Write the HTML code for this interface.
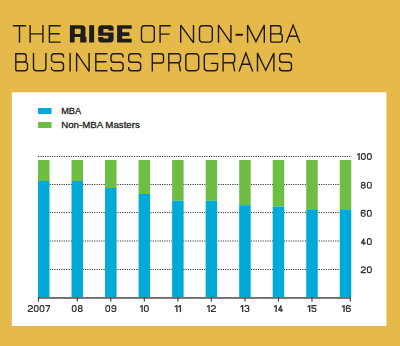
<!DOCTYPE html>
<html><head><meta charset="utf-8">
<style>
html,body{margin:0;padding:0;background:#E5BA4A;}
svg{display:block;}
text{font-family:"Liberation Sans",sans-serif;}
</style></head>
<body>
<svg width="400" height="346" viewBox="0 0 400 346">
<rect x="0" y="0" width="400" height="346" fill="#E5BA4A"/>
<!-- title -->
<g font-size="26">
<path d="M12.80 25.80H26.20M19.50 25.80V42.80" fill="none" stroke="#1E1A15" stroke-width="1.4" stroke-linejoin="miter" stroke-miterlimit="3"/>
<path d="M30.10 25.10V42.80M42.90 25.10V42.80M30.10 33.90H42.90" fill="none" stroke="#1E1A15" stroke-width="1.4" stroke-linejoin="miter" stroke-miterlimit="3"/>
<path d="M60.60 25.80H49.40V42.10H60.60M49.40 33.80H59.70" fill="none" stroke="#1E1A15" stroke-width="1.4" stroke-linejoin="miter" stroke-miterlimit="3"/>
<path d="M70.50 25.15H81.90A3.60 3.60 0 0 1 85.50 28.75V34.10A3.00 3.00 0 0 1 82.50 37.10H69.90V25.75A0.60 0.60 0 0 1 70.50 25.15ZM80.10 36.20H85.20A1.20 1.20 0 0 1 86.40 37.40V42.50H80.10V36.20ZM69.90 25.15H74.80V42.50H69.90V25.15Z" fill="#1F1C1C"/>
<path d="M74.80 28.75H79.90A0.80 0.80 0 0 1 80.70 29.55V33.10A0.80 0.80 0 0 1 79.90 33.90H74.80V28.75ZM74.80 37.10H80.10V43.50H74.80V37.10Z" fill="#E5BA4A"/>
<path d="M89.20 25.15H94.10V42.50H89.20V25.15Z" fill="#1F1C1C"/>
<path d="M101.60 25.15H110.60A3.00 3.00 0 0 1 113.60 28.15V34.80A1.00 1.00 0 0 1 112.60 35.80H100.60A2.40 2.40 0 0 1 98.20 33.40V28.55A3.40 3.40 0 0 1 101.60 25.15ZM99.20 32.50H111.20A2.40 2.40 0 0 1 113.60 34.90V39.10A3.40 3.40 0 0 1 110.20 42.50H101.20A3.00 3.00 0 0 1 98.20 39.50V33.50A1.00 1.00 0 0 1 99.20 32.50Z" fill="#1F1C1C"/>
<path d="M103.40 28.95H108.40V30.75H114.60V32.50H103.40ZM97.20 35.80H108.40V38.60H103.40V37.10H97.20Z" fill="#E5BA4A"/>
<path d="M117.10 25.15H122.20V42.50H117.10V25.15ZM117.10 25.15H131.70V28.75H117.10V25.15ZM117.10 32.20H129.40V36.00H117.10V32.20ZM117.10 38.80H131.70V42.50H117.10V38.80Z" fill="#1F1C1C"/>
<path d="M144.50 25.80H151.30A3.00 3.00 0 0 1 154.30 28.80V39.10A3.00 3.00 0 0 1 151.30 42.10H144.50A3.00 3.00 0 0 1 141.50 39.10V28.80A3.00 3.00 0 0 1 144.50 25.80Z" fill="none" stroke="#1E1A15" stroke-width="1.4" stroke-linejoin="miter" stroke-miterlimit="3"/>
<path d="M170.80 25.80H160.10V42.80M160.10 34.10H169.60" fill="none" stroke="#1E1A15" stroke-width="1.4" stroke-linejoin="miter" stroke-miterlimit="3"/>
<path d="M180.70 42.80V25.10L193.50 42.80V25.10" fill="none" stroke="#1E1A15" stroke-width="1.4" stroke-linejoin="miter" stroke-miterlimit="3"/>
<path d="M202.50 25.80H209.30A3.00 3.00 0 0 1 212.30 28.80V39.10A3.00 3.00 0 0 1 209.30 42.10H202.50A3.00 3.00 0 0 1 199.50 39.10V28.80A3.00 3.00 0 0 1 202.50 25.80Z" fill="none" stroke="#1E1A15" stroke-width="1.4" stroke-linejoin="miter" stroke-miterlimit="3"/>
<path d="M218.50 42.80V25.10L230.90 42.80V25.10" fill="none" stroke="#1E1A15" stroke-width="1.4" stroke-linejoin="miter" stroke-miterlimit="3"/>
<path d="M235.60 34.75H242.90" fill="none" stroke="#1E1A15" stroke-width="2.0" stroke-linejoin="miter" stroke-miterlimit="3"/>
<path d="M247.60 42.80V25.10L255.95 41.60L264.30 25.10V42.80" fill="none" stroke="#1E1A15" stroke-width="1.4" stroke-linejoin="miter" stroke-miterlimit="3"/>
<path d="M270.70 42.10V25.80H278.40A2.60 2.60 0 0 1 281.00 28.40V31.30A2.60 2.60 0 0 1 278.40 33.90H270.70M270.70 33.90H279.70A2.60 2.60 0 0 1 282.30 36.50V39.50A2.60 2.60 0 0 1 279.70 42.10H270.70" fill="none" stroke="#1E1A15" stroke-width="1.4" stroke-linejoin="miter" stroke-miterlimit="3"/>
<path d="M286.30 42.80L293.10 25.10L299.90 42.80M289.20 36.30H297.00" fill="none" stroke="#1E1A15" stroke-width="1.4" stroke-linejoin="miter" stroke-miterlimit="3"/>
<path d="M15.80 70.70V53.80H23.60A2.60 2.60 0 0 1 26.20 56.40V59.40A2.60 2.60 0 0 1 23.60 62.00H15.80M15.80 62.00H24.90A2.60 2.60 0 0 1 27.50 64.60V68.10A2.60 2.60 0 0 1 24.90 70.70H15.80" fill="none" stroke="#1E1A15" stroke-width="1.4" stroke-linejoin="miter" stroke-miterlimit="3"/>
<path d="M33.50 53.10V67.70A3.00 3.00 0 0 0 36.50 70.70H42.90A3.00 3.00 0 0 0 45.90 67.70V53.10" fill="none" stroke="#1E1A15" stroke-width="1.4" stroke-linejoin="miter" stroke-miterlimit="3"/>
<path d="M63.50 57.40V56.60A2.80 2.80 0 0 0 60.70 53.80H54.30A2.80 2.80 0 0 0 51.50 56.60V59.40A2.80 2.80 0 0 0 54.30 62.20H60.70A2.80 2.80 0 0 1 63.50 65.00V67.90A2.80 2.80 0 0 1 60.70 70.70H54.30A2.80 2.80 0 0 1 51.50 67.90V67.10" fill="none" stroke="#1E1A15" stroke-width="1.4" stroke-linejoin="miter" stroke-miterlimit="3"/>
<path d="M70.10 53.10V71.40" fill="none" stroke="#1E1A15" stroke-width="1.4" stroke-linejoin="miter" stroke-miterlimit="3"/>
<path d="M76.60 71.40V53.10L89.10 71.40V53.10" fill="none" stroke="#1E1A15" stroke-width="1.4" stroke-linejoin="miter" stroke-miterlimit="3"/>
<path d="M107.40 53.80H95.80V70.70H107.40M95.80 61.80H106.50" fill="none" stroke="#1E1A15" stroke-width="1.4" stroke-linejoin="miter" stroke-miterlimit="3"/>
<path d="M123.10 57.40V56.60A2.80 2.80 0 0 0 120.30 53.80H113.80A2.80 2.80 0 0 0 111.00 56.60V59.40A2.80 2.80 0 0 0 113.80 62.20H120.30A2.80 2.80 0 0 1 123.10 65.00V67.90A2.80 2.80 0 0 1 120.30 70.70H113.80A2.80 2.80 0 0 1 111.00 67.90V67.10" fill="none" stroke="#1E1A15" stroke-width="1.4" stroke-linejoin="miter" stroke-miterlimit="3"/>
<path d="M140.70 57.40V56.60A2.80 2.80 0 0 0 137.90 53.80H131.50A2.80 2.80 0 0 0 128.70 56.60V59.40A2.80 2.80 0 0 0 131.50 62.20H137.90A2.80 2.80 0 0 1 140.70 65.00V67.90A2.80 2.80 0 0 1 137.90 70.70H131.50A2.80 2.80 0 0 1 128.70 67.90V67.10" fill="none" stroke="#1E1A15" stroke-width="1.4" stroke-linejoin="miter" stroke-miterlimit="3"/>
<path d="M152.30 71.40V53.80H160.90A2.60 2.60 0 0 1 163.50 56.40V60.40A2.60 2.60 0 0 1 160.90 63.00H152.30" fill="none" stroke="#1E1A15" stroke-width="1.4" stroke-linejoin="miter" stroke-miterlimit="3"/>
<path d="M168.80 71.40V53.80H177.90A2.60 2.60 0 0 1 180.50 56.40V60.20A2.60 2.60 0 0 1 177.90 62.80H168.80M178.90 62.80L180.50 71.40" fill="none" stroke="#1E1A15" stroke-width="1.4" stroke-linejoin="miter" stroke-miterlimit="3"/>
<path d="M188.80 53.80H195.70A3.00 3.00 0 0 1 198.70 56.80V67.70A3.00 3.00 0 0 1 195.70 70.70H188.80A3.00 3.00 0 0 1 185.80 67.70V56.80A3.00 3.00 0 0 1 188.80 53.80Z" fill="none" stroke="#1E1A15" stroke-width="1.4" stroke-linejoin="miter" stroke-miterlimit="3"/>
<path d="M218.20 53.80H207.30A3.00 3.00 0 0 0 204.30 56.80V67.70A3.00 3.00 0 0 0 207.30 70.70H214.50A3.00 3.00 0 0 0 217.50 67.70V63.40H210.90" fill="none" stroke="#1E1A15" stroke-width="1.4" stroke-linejoin="miter" stroke-miterlimit="3"/>
<path d="M223.10 71.40V53.80H232.10A2.60 2.60 0 0 1 234.70 56.40V60.20A2.60 2.60 0 0 1 232.10 62.80H223.10M233.10 62.80L234.70 71.40" fill="none" stroke="#1E1A15" stroke-width="1.4" stroke-linejoin="miter" stroke-miterlimit="3"/>
<path d="M239.10 71.40L245.90 53.10L252.70 71.40M242.00 64.30H249.80" fill="none" stroke="#1E1A15" stroke-width="1.4" stroke-linejoin="miter" stroke-miterlimit="3"/>
<path d="M257.50 71.40V53.10L265.70 70.20L273.90 53.10V71.40" fill="none" stroke="#1E1A15" stroke-width="1.4" stroke-linejoin="miter" stroke-miterlimit="3"/>
<path d="M291.50 57.40V56.60A2.80 2.80 0 0 0 288.70 53.80H282.40A2.80 2.80 0 0 0 279.60 56.60V59.40A2.80 2.80 0 0 0 282.40 62.20H288.70A2.80 2.80 0 0 1 291.50 65.00V67.90A2.80 2.80 0 0 1 288.70 70.70H282.40A2.80 2.80 0 0 1 279.60 67.90V67.10" fill="none" stroke="#1E1A15" stroke-width="1.4" stroke-linejoin="miter" stroke-miterlimit="3"/>
</g>
<!-- /title -->
<!-- panel -->
<rect x="11.8" y="92.3" width="374.6" height="233.6" fill="#FFFFFF"/>
<!-- legend -->
<rect x="38" y="108" width="13.5" height="6" fill="#00AAD6"/>
<rect x="38" y="122" width="13.5" height="6" fill="#6EBD45"/>
<g fill="#222222" font-size="9.8" stroke="#222222" stroke-width="0.3">
<text x="61.2" y="113.9" textLength="20" lengthAdjust="spacingAndGlyphs">MBA</text>
<text x="61.2" y="127.9" textLength="78.6" lengthAdjust="spacingAndGlyphs">Non-MBA Masters</text>
</g>
<!-- grid -->
<g stroke="#383838" stroke-width="1" stroke-dasharray="1.2 1.14">
<line x1="38" y1="156.5" x2="351" y2="156.5"/>
<line x1="38" y1="184.5" x2="351" y2="184.5"/>
<line x1="38" y1="212.6" x2="351" y2="212.6"/>
<line x1="38" y1="241" x2="351" y2="241"/>
<line x1="38" y1="269.5" x2="351" y2="269.5"/>
</g>
<!-- bars -->
<g id="bars">
<rect x="38.00" y="160" width="11.5" height="21.00" fill="#6EBD45"/>
<rect x="38.00" y="181" width="11.5" height="116.00" fill="#00AAD6"/>
<rect x="71.53" y="160" width="11.5" height="21.00" fill="#6EBD45"/>
<rect x="71.53" y="181" width="11.5" height="116.00" fill="#00AAD6"/>
<rect x="105.06" y="160" width="11.5" height="28.00" fill="#6EBD45"/>
<rect x="105.06" y="188" width="11.5" height="109.00" fill="#00AAD6"/>
<rect x="138.59" y="160" width="11.5" height="34.00" fill="#6EBD45"/>
<rect x="138.59" y="194" width="11.5" height="103.00" fill="#00AAD6"/>
<rect x="172.12" y="160" width="11.5" height="40.80" fill="#6EBD45"/>
<rect x="172.12" y="200.8" width="11.5" height="96.20" fill="#00AAD6"/>
<rect x="205.65" y="160" width="11.5" height="40.80" fill="#6EBD45"/>
<rect x="205.65" y="200.8" width="11.5" height="96.20" fill="#00AAD6"/>
<rect x="239.18" y="160" width="11.5" height="45.15" fill="#6EBD45"/>
<rect x="239.18" y="205.15" width="11.5" height="91.85" fill="#00AAD6"/>
<rect x="272.71" y="160" width="11.5" height="46.50" fill="#6EBD45"/>
<rect x="272.71" y="206.5" width="11.5" height="90.50" fill="#00AAD6"/>
<rect x="306.24" y="160" width="11.5" height="49.25" fill="#6EBD45"/>
<rect x="306.24" y="209.25" width="11.5" height="87.75" fill="#00AAD6"/>
<rect x="339.77" y="160" width="11.5" height="49.25" fill="#6EBD45"/>
<rect x="339.77" y="209.25" width="11.5" height="87.75" fill="#00AAD6"/>
<rect x="37.90" y="297" width="1.2" height="4.6" fill="#4A4A4A"/>
<rect x="76.68" y="297" width="1.2" height="4.6" fill="#4A4A4A"/>
<rect x="110.21" y="297" width="1.2" height="4.6" fill="#4A4A4A"/>
<rect x="143.74" y="297" width="1.2" height="4.6" fill="#4A4A4A"/>
<rect x="177.27" y="297" width="1.2" height="4.6" fill="#4A4A4A"/>
<rect x="210.80" y="297" width="1.2" height="4.6" fill="#4A4A4A"/>
<rect x="244.33" y="297" width="1.2" height="4.6" fill="#4A4A4A"/>
<rect x="277.86" y="297" width="1.2" height="4.6" fill="#4A4A4A"/>
<rect x="311.39" y="297" width="1.2" height="4.6" fill="#4A4A4A"/>
<rect x="349.70" y="297" width="1.2" height="4.6" fill="#4A4A4A"/>
<path d="M28.35 306.93V307.12A1.50 1.50 0 0 1 29.85 305.62H30.80A1.50 1.50 0 0 1 32.30 307.12V308.05L28.35 310.58V311.48H32.88" fill="none" stroke="#333333" stroke-width="1.15" stroke-linejoin="miter"/>
<rect x="34.30" y="305.62" width="3.80" height="5.85" rx="1.6" fill="none" stroke="#333333" stroke-width="1.15"/>
<rect x="40.10" y="305.62" width="3.80" height="5.85" rx="1.6" fill="none" stroke="#333333" stroke-width="1.15"/>
<path d="M45.32 305.62H49.85L46.90 312.05" fill="none" stroke="#333333" stroke-width="1.15" stroke-linejoin="bevel"/>
<rect x="72.31" y="305.62" width="3.80" height="5.85" rx="1.6" fill="none" stroke="#333333" stroke-width="1.15"/>
<path d="M79.91 305.62H80.66A1.30 1.30 0 0 1 81.95 306.93V307.15A1.30 1.30 0 0 1 80.66 308.45H79.91A1.30 1.30 0 0 1 78.61 307.15V306.93A1.30 1.30 0 0 1 79.91 305.62ZM79.81 308.45H80.75A1.50 1.50 0 0 1 82.25 309.95V309.98A1.50 1.50 0 0 1 80.75 311.48H79.81A1.50 1.50 0 0 1 78.31 309.98V309.95A1.50 1.50 0 0 1 79.81 308.45Z" fill="none" stroke="#333333" stroke-width="1.15" stroke-linejoin="miter"/>
<rect x="105.84" y="305.62" width="3.80" height="5.85" rx="1.6" fill="none" stroke="#333333" stroke-width="1.15"/>
<path d="M111.84 310.28V309.98A1.50 1.50 0 0 0 113.34 311.48H114.28A1.50 1.50 0 0 0 115.78 309.98V307.12A1.50 1.50 0 0 0 114.28 305.62H113.34A1.50 1.50 0 0 0 111.84 307.12V307.25A1.50 1.50 0 0 0 113.34 308.75H115.78" fill="none" stroke="#333333" stroke-width="1.15" stroke-linejoin="miter"/>
<rect x="141.44" y="305.05" width="1.35" height="7.0" fill="#333333"/>
<polygon points="141.64,305.05 141.64,306.65 139.89,307.55 139.89,306.25" fill="#333333"/>
<rect x="144.41" y="305.62" width="3.80" height="5.85" rx="1.6" fill="none" stroke="#333333" stroke-width="1.15"/>
<rect x="176.22" y="305.05" width="1.35" height="7.0" fill="#333333"/>
<polygon points="176.42,305.05 176.42,306.65 174.67,307.55 174.67,306.25" fill="#333333"/>
<rect x="179.72" y="305.05" width="1.35" height="7.0" fill="#333333"/>
<polygon points="179.92,305.05 179.92,306.65 178.17,307.55 178.17,306.25" fill="#333333"/>
<rect x="208.43" y="305.05" width="1.35" height="7.0" fill="#333333"/>
<polygon points="208.62,305.05 208.62,306.65 206.88,307.55 206.88,306.25" fill="#333333"/>
<path d="M211.40 306.93V307.12A1.50 1.50 0 0 1 212.90 305.62H213.85A1.50 1.50 0 0 1 215.35 307.12V308.05L211.40 310.58V311.48H215.92" fill="none" stroke="#333333" stroke-width="1.15" stroke-linejoin="miter"/>
<rect x="241.96" y="305.05" width="1.35" height="7.0" fill="#333333"/>
<polygon points="242.16,305.05 242.16,306.65 240.41,307.55 240.41,306.25" fill="#333333"/>
<path d="M244.93 306.82V307.12A1.50 1.50 0 0 1 246.43 305.62H247.38A1.50 1.50 0 0 1 248.88 307.12V307.15A1.30 1.30 0 0 1 247.58 308.45H246.53M247.58 308.45A1.30 1.30 0 0 1 248.88 309.75V309.98A1.50 1.50 0 0 1 247.38 311.48H246.43A1.50 1.50 0 0 1 244.93 309.98V310.28" fill="none" stroke="#333333" stroke-width="1.15" stroke-linejoin="miter"/>
<rect x="275.49" y="305.05" width="1.35" height="7.0" fill="#333333"/>
<polygon points="275.69,305.05 275.69,306.65 273.94,307.55 273.94,306.25" fill="#333333"/>
<path d="M281.09 312.05V305.62L278.46 310.05H282.99" fill="none" stroke="#333333" stroke-width="1.15" stroke-linejoin="bevel"/>
<rect x="309.01" y="305.05" width="1.35" height="7.0" fill="#333333"/>
<polygon points="309.21,305.05 309.21,306.65 307.47,307.55 307.47,306.25" fill="#333333"/>
<path d="M316.52 305.62H311.99V308.15H314.44A1.50 1.50 0 0 1 315.94 309.65V309.98A1.50 1.50 0 0 1 314.44 311.48H313.49A1.50 1.50 0 0 1 311.99 309.98V310.38" fill="none" stroke="#333333" stroke-width="1.15" stroke-linejoin="miter"/>
<rect x="343.38" y="305.05" width="1.35" height="7.0" fill="#333333"/>
<polygon points="343.57,305.05 343.57,306.65 341.83,307.55 341.83,306.25" fill="#333333"/>
<path d="M350.30 306.82V307.12A1.50 1.50 0 0 0 348.80 305.62H347.85A1.50 1.50 0 0 0 346.35 307.12V309.98A1.50 1.50 0 0 0 347.85 311.48H348.80A1.50 1.50 0 0 0 350.30 309.98V309.65A1.50 1.50 0 0 0 348.80 308.15H346.35" fill="none" stroke="#333333" stroke-width="1.15" stroke-linejoin="miter"/>
<rect x="358.45" y="153.00" width="1.35" height="7.0" fill="#333333"/>
<polygon points="358.65,153.00 358.65,154.60 356.90,155.50 356.90,154.20" fill="#333333"/>
<rect x="361.43" y="153.57" width="3.80" height="5.85" rx="1.6" fill="none" stroke="#333333" stroke-width="1.15"/>
<rect x="367.43" y="153.57" width="3.80" height="5.85" rx="1.6" fill="none" stroke="#333333" stroke-width="1.15"/>
<path d="M362.88 182.22H363.62A1.30 1.30 0 0 1 364.93 183.53V183.75A1.30 1.30 0 0 1 363.62 185.05H362.88A1.30 1.30 0 0 1 361.57 183.75V183.53A1.30 1.30 0 0 1 362.88 182.22ZM362.77 185.05H363.73A1.50 1.50 0 0 1 365.23 186.55V186.58A1.50 1.50 0 0 1 363.73 188.08H362.77A1.50 1.50 0 0 1 361.27 186.58V186.55A1.50 1.50 0 0 1 362.77 185.05Z" fill="none" stroke="#333333" stroke-width="1.15" stroke-linejoin="miter"/>
<rect x="367.42" y="182.22" width="3.80" height="5.85" rx="1.6" fill="none" stroke="#333333" stroke-width="1.15"/>
<path d="M365.23 211.57V211.88A1.50 1.50 0 0 0 363.73 210.38H362.77A1.50 1.50 0 0 0 361.27 211.88V214.73A1.50 1.50 0 0 0 362.77 216.23H363.73A1.50 1.50 0 0 0 365.23 214.73V214.40A1.50 1.50 0 0 0 363.73 212.90H361.27" fill="none" stroke="#333333" stroke-width="1.15" stroke-linejoin="miter"/>
<rect x="367.42" y="210.38" width="3.80" height="5.85" rx="1.6" fill="none" stroke="#333333" stroke-width="1.15"/>
<path d="M363.90 245.10V238.67L361.27 243.10H365.80" fill="none" stroke="#333333" stroke-width="1.15" stroke-linejoin="bevel"/>
<rect x="367.42" y="238.67" width="3.80" height="5.85" rx="1.6" fill="none" stroke="#333333" stroke-width="1.15"/>
<path d="M361.27 268.12V268.32A1.50 1.50 0 0 1 362.77 266.82H363.73A1.50 1.50 0 0 1 365.23 268.32V269.25L361.27 271.78V272.68H365.80" fill="none" stroke="#333333" stroke-width="1.15" stroke-linejoin="miter"/>
<rect x="367.42" y="266.82" width="3.80" height="5.85" rx="1.6" fill="none" stroke="#333333" stroke-width="1.15"/>
</g>
<!-- axis -->
<rect x="38" y="297.2" width="313" height="1.5" fill="#4A4A4A"/>
</svg>
<script>
</script>
</body></html>
